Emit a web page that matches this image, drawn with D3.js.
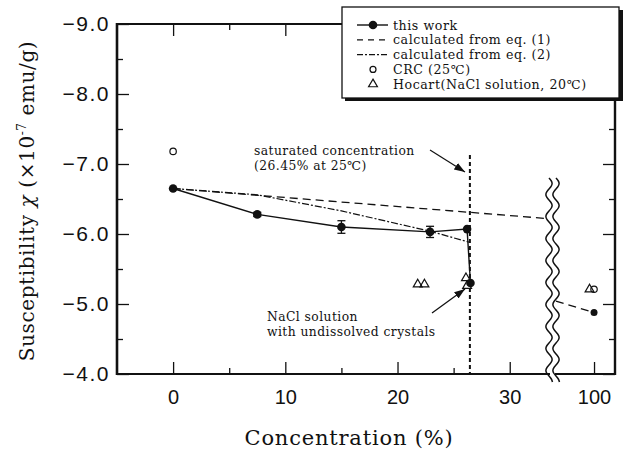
<!DOCTYPE html>
<html>
<head>
<meta charset="utf-8">
<script src="https://cdn.jsdelivr.net/npm/d3@7"></script>
<style>
  body { margin: 0; background: #fff; }
  svg { font-family: 'DejaVu Serif', 'Liberation Serif', serif; }
  .tick text { font-size: 20px; fill: #111; }
  .yax .tick text { font-size: 21px; letter-spacing: 1.5px; }
</style>
</head>
<body>
<svg class="chart" width="625" height="452"></svg>
<script>
// this work (measured), main segment + 100 %
const workConc = [0, 7.5, 15, 22.9, 26.2, 26.5];
const workChi = [-6.65, -6.28, -6.10, -6.03, -6.07, -5.30];
const workErr = [0, 0.03, 0.09, 0.08, 0, 0];
const work100 = [-4.88];

// calculated from eq. (1) / eq. (2)
const eq1Conc = [0, 33.4];
const eq1Chi = [-6.65, -6.22];
const eq1Conc100 = [96.6, 100];
const eq1Chi100 = [-5.04, -4.88];
const eq2Conc = [0, 7.5, 15, 22.9, 26.45];
const eq2Chi = [-6.65, -6.56, -6.33, -6.04, -5.88];

// literature
const crcConc = [0, 100];
const crcChi = [-7.18, -5.21];
const hocartConc = [21.8, 22.4, 26.1, 26.2, 99.6];
const hocartChi = [-5.28, -5.28, -5.37, -5.26, -5.21];

const satConc = 26.45;
const satTop = -7.13;

const yTicks = [-9, -8, -7, -6, -5, -4];
const yMinor = [-8.5, -7.5, -6.5, -5.5, -4.5];
const xTicks = [0, 10, 20, 30];
const xMinor = [5, 15, 25];
const xTicks100 = [100];

const legendItems = ['this work', 'calculated from eq. (1)', 'calculated from eq. (2)', 'CRC (25\u2103)', 'Hocart(NaCl solution, 20\u2103)'];

const LEFT = 117, RIGHT = 615, TOP = 24, BOTTOM = 374;
const BREAK_L = 549, BREAK_R = 556;

const svg = d3.select('svg.chart');

const x = d3.scaleLinear().domain([-5, 33.5]).range([LEFT, BREAK_L]);
const x2 = d3.scaleLinear().domain([96.43, 101.87]).range([BREAK_R - 2, RIGHT]);
const y = d3.scaleLinear().domain([-9, -4]).range([TOP, BOTTOM]);

const zip = (a, b) => a.map((v, i) => [v, b[i]]);

// ticks
function tickAxis(axis, values, size, g) {
  return svg.append('g').attr('transform', g)
    .call(axis.tickValues(values).tickSize(-size).tickFormat(''))
    .call(s => s.select('.domain').remove())
    .call(s => s.selectAll('line').attr('stroke', '#111').attr('stroke-width', 1.3));
}
const fmtY = d3.format('.1f');

svg.append('g').attr('class', 'yax').attr('transform', `translate(${LEFT},0)`)
  .call(d3.axisLeft(y).tickValues(yTicks).tickSize(-12).tickPadding(7).tickFormat(fmtY))
  .call(s => s.select('.domain').remove())
  .call(s => s.selectAll('line').attr('stroke', '#111').attr('stroke-width', 1.3));
tickAxis(d3.axisLeft(y), yMinor, 6, `translate(${LEFT},0)`);
tickAxis(d3.axisRight(y), yTicks.filter(v => y(v) > 104), 12, `translate(${RIGHT},0)`);
tickAxis(d3.axisRight(y), yMinor.filter(v => y(v) > 104), 6, `translate(${RIGHT},0)`);

svg.append('g').attr('transform', `translate(0,${BOTTOM})`)
  .call(d3.axisBottom(x).tickValues(xTicks).tickSize(-12).tickPadding(16).tickFormat(d3.format('d')))
  .call(s => s.select('.domain').remove())
  .call(s => s.selectAll('line').attr('stroke', '#111').attr('stroke-width', 1.3));
tickAxis(d3.axisBottom(x), xMinor, 6, `translate(0,${BOTTOM})`);
svg.append('g').attr('transform', `translate(0,${BOTTOM})`)
  .call(d3.axisBottom(x2).tickValues(xTicks100).tickSize(-12).tickPadding(16).tickFormat(d3.format('d')))
  .call(s => s.select('.domain').remove())
  .call(s => s.selectAll('line').attr('stroke', '#111').attr('stroke-width', 1.3));
tickAxis(d3.axisTop(x), xTicks.filter(v => x(v) < 340), 12, `translate(0,${TOP})`);
tickAxis(d3.axisTop(x), xMinor.filter(v => x(v) < 340), 6, `translate(0,${TOP})`);

// frame
const frame = svg.append('g').attr('stroke', '#111').attr('fill', 'none');
frame.append('line').attr('x1', LEFT).attr('x2', LEFT).attr('y1', TOP - 1).attr('y2', BOTTOM + 1).attr('stroke-width', 2.6);
frame.append('line').attr('x1', LEFT).attr('x2', 345).attr('y1', TOP).attr('y2', TOP).attr('stroke-width', 2);
frame.append('line').attr('x1', LEFT).attr('x2', BREAK_L + 2).attr('y1', BOTTOM).attr('y2', BOTTOM).attr('stroke-width', 2.2);
frame.append('line').attr('x1', BREAK_R - 2).attr('x2', RIGHT).attr('y1', BOTTOM).attr('y2', BOTTOM).attr('stroke-width', 2.2);
frame.append('line').attr('x1', RIGHT).attr('x2', RIGHT).attr('y1', 100).attr('y2', BOTTOM + 1).attr('stroke-width', 2.4);

// axis titles
svg.append('text').attr('x', 349).attr('y', 445).attr('text-anchor', 'middle')
  .attr('font-size', 21).attr('letter-spacing', 0.8).attr('fill', '#111').text('Concentration (%)');
const yt = svg.append('text').attr('transform', 'translate(34,201) rotate(-90)')
  .attr('text-anchor', 'middle').attr('font-size', 20).attr('letter-spacing', 0.6).attr('fill', '#111');
yt.append('tspan').text('Susceptibility ');
yt.append('tspan').attr('font-style', 'italic').text('\u03c7');
yt.append('tspan').text(' (\u00d710');
yt.append('tspan').attr('dy', -8).attr('font-size', 12).text('-7');
yt.append('tspan').attr('dy', 8).text(' emu/g)');

// lines
const line = d3.line().x(d => x(d[0])).y(d => y(d[1]));
const line2 = d3.line().x(d => x2(d[0])).y(d => y(d[1]));

svg.append('line').attr('x1', x(satConc)).attr('x2', x(satConc))
  .attr('y1', y(satTop)).attr('y2', BOTTOM).attr('stroke', '#111')
  .attr('stroke-width', 2).attr('stroke-dasharray', '4,3');

svg.append('path').attr('d', line(zip(eq1Conc, eq1Chi))).attr('fill', 'none')
  .attr('stroke', '#111').attr('stroke-width', 1.3).attr('stroke-dasharray', '8,5');
svg.append('path').attr('d', line2(zip(eq1Conc100, eq1Chi100))).attr('fill', 'none')
  .attr('stroke', '#111').attr('stroke-width', 1.3).attr('stroke-dasharray', '8,5');
svg.append('path').attr('d', line(zip(eq2Conc, eq2Chi))).attr('fill', 'none')
  .attr('stroke', '#111').attr('stroke-width', 1.2).attr('stroke-dasharray', '7,2,2,2');
svg.append('path').attr('d', line(zip(workConc, workChi))).attr('fill', 'none')
  .attr('stroke', '#111').attr('stroke-width', 1.4);

// error bars
const eb = svg.append('g').attr('stroke', '#111').attr('stroke-width', 1.3);
workConc.forEach((c, i) => {
  if (!workErr[i]) return;
  const cx = x(c), y1 = y(workChi[i] - workErr[i]), y2 = y(workChi[i] + workErr[i]);
  eb.append('line').attr('x1', cx).attr('x2', cx).attr('y1', y1).attr('y2', y2);
  eb.append('line').attr('x1', cx - 4).attr('x2', cx + 4).attr('y1', y1).attr('y2', y1);
  eb.append('line').attr('x1', cx - 4).attr('x2', cx + 4).attr('y1', y2).attr('y2', y2);
});

svg.selectAll('.work').data(zip(workConc, workChi)).enter().append('circle')
  .attr('cx', d => x(d[0])).attr('cy', d => y(d[1])).attr('r', 4.3).attr('fill', '#111');
svg.selectAll('.work100').data(work100).enter().append('circle')
  .attr('cx', x2(100)).attr('cy', d => y(d)).attr('r', 3.5).attr('fill', '#111');

const sx = d => d[0] > 50 ? x2(d[0]) : x(d[0]);
svg.selectAll('.crc').data(zip(crcConc, crcChi)).enter().append('circle')
  .attr('cx', sx).attr('cy', d => y(d[1])).attr('r', 3.2)
  .attr('fill', '#fff').attr('stroke', '#111').attr('stroke-width', 1.2);
const tri = d3.symbol().type(d3.symbolTriangle).size(34);
svg.selectAll('.hoc').data(zip(hocartConc, hocartChi)).enter().append('path')
  .attr('d', tri).attr('transform', d => `translate(${sx(d)},${y(d[1])})`)
  .attr('fill', 'none').attr('stroke', '#111').attr('stroke-width', 1.2);

// axis break
const wave = (x0) => {
  const pts = d3.range(178, 384, 3).map(t => [x0 + 3.5 * Math.sin((t - 178) / 22 * 2 * Math.PI), t]);
  return d3.line().curve(d3.curveBasis)(pts);
};
svg.append('rect').attr('x', BREAK_L + 1).attr('y', 178).attr('width', BREAK_R - BREAK_L - 2)
  .attr('height', 204).attr('fill', '#fff');
[BREAK_L, BREAK_R].forEach(b => svg.append('path').attr('d', wave(b)).attr('fill', 'none')
  .attr('stroke', '#111').attr('stroke-width', 1.5));

// annotations
const defs = svg.append('defs');
defs.append('marker').attr('id', 'ah').attr('viewBox', '0 0 10 10').attr('refX', 10).attr('refY', 5)
  .attr('markerWidth', 9).attr('markerHeight', 9).attr('orient', 'auto')
  .append('path').attr('d', 'M0,1.5L10,5L0,8.5Z').attr('fill', '#111');

const ann = svg.append('g').attr('font-size', 12.3).attr('letter-spacing', 0.45).attr('fill', '#111');
ann.append('text').attr('x', 254).attr('y', 155).text('saturated concentration');
ann.append('text').attr('x', 254).attr('y', 169.5).text('(26.45% at 25\u2103)');
ann.append('text').attr('x', 267).attr('y', 321).text('NaCl solution');
ann.append('text').attr('x', 267).attr('y', 335.5).text('with undissolved crystals');
svg.append('line').attr('x1', 430).attr('y1', 150).attr('x2', 465).attr('y2', 172)
  .attr('stroke', '#111').attr('stroke-width', 1.2).attr('marker-end', 'url(#ah)');
svg.append('line').attr('x1', 432).attr('y1', 313).attr('x2', 465).attr('y2', 289)
  .attr('stroke', '#111').attr('stroke-width', 1.2).attr('marker-end', 'url(#ah)');

// legend
const lg = svg.append('g');
lg.append('rect').attr('x', 345).attr('y', 10).attr('width', 278).attr('height', 91).attr('fill', '#111');
lg.append('rect').attr('x', 342).attr('y', 7).attr('width', 277).attr('height', 91)
  .attr('fill', '#fff').attr('stroke', '#111').attr('stroke-width', 1.3);
const rowY = i => 25 + i * 14.8;
lg.append('line').attr('x1', 357).attr('x2', 388).attr('y1', rowY(0)).attr('y2', rowY(0)).attr('stroke', '#111').attr('stroke-width', 1.4);
lg.append('circle').attr('cx', 373).attr('cy', rowY(0)).attr('r', 4.3).attr('fill', '#111');
lg.append('line').attr('x1', 357).attr('x2', 388).attr('y1', rowY(1)).attr('y2', rowY(1)).attr('stroke', '#111').attr('stroke-width', 1.3).attr('stroke-dasharray', '6,5');
lg.append('line').attr('x1', 357).attr('x2', 388).attr('y1', rowY(2)).attr('y2', rowY(2)).attr('stroke', '#111').attr('stroke-width', 1.1).attr('stroke-dasharray', '6,2,2,2');
lg.append('circle').attr('cx', 373).attr('cy', rowY(3)).attr('r', 3).attr('fill', '#fff').attr('stroke', '#111').attr('stroke-width', 1.2);
lg.append('path').attr('d', tri).attr('transform', `translate(373,${rowY(4)})`).attr('fill', 'none').attr('stroke', '#111').attr('stroke-width', 1.2);
lg.selectAll('.lt').data(legendItems).enter().append('text')
  .attr('x', 393).attr('y', (d, i) => rowY(i) + 4.5).attr('font-size', 12.6)
  .attr('letter-spacing', 0.55).attr('fill', '#111').text(d => d);
</script>
</body>
</html>
